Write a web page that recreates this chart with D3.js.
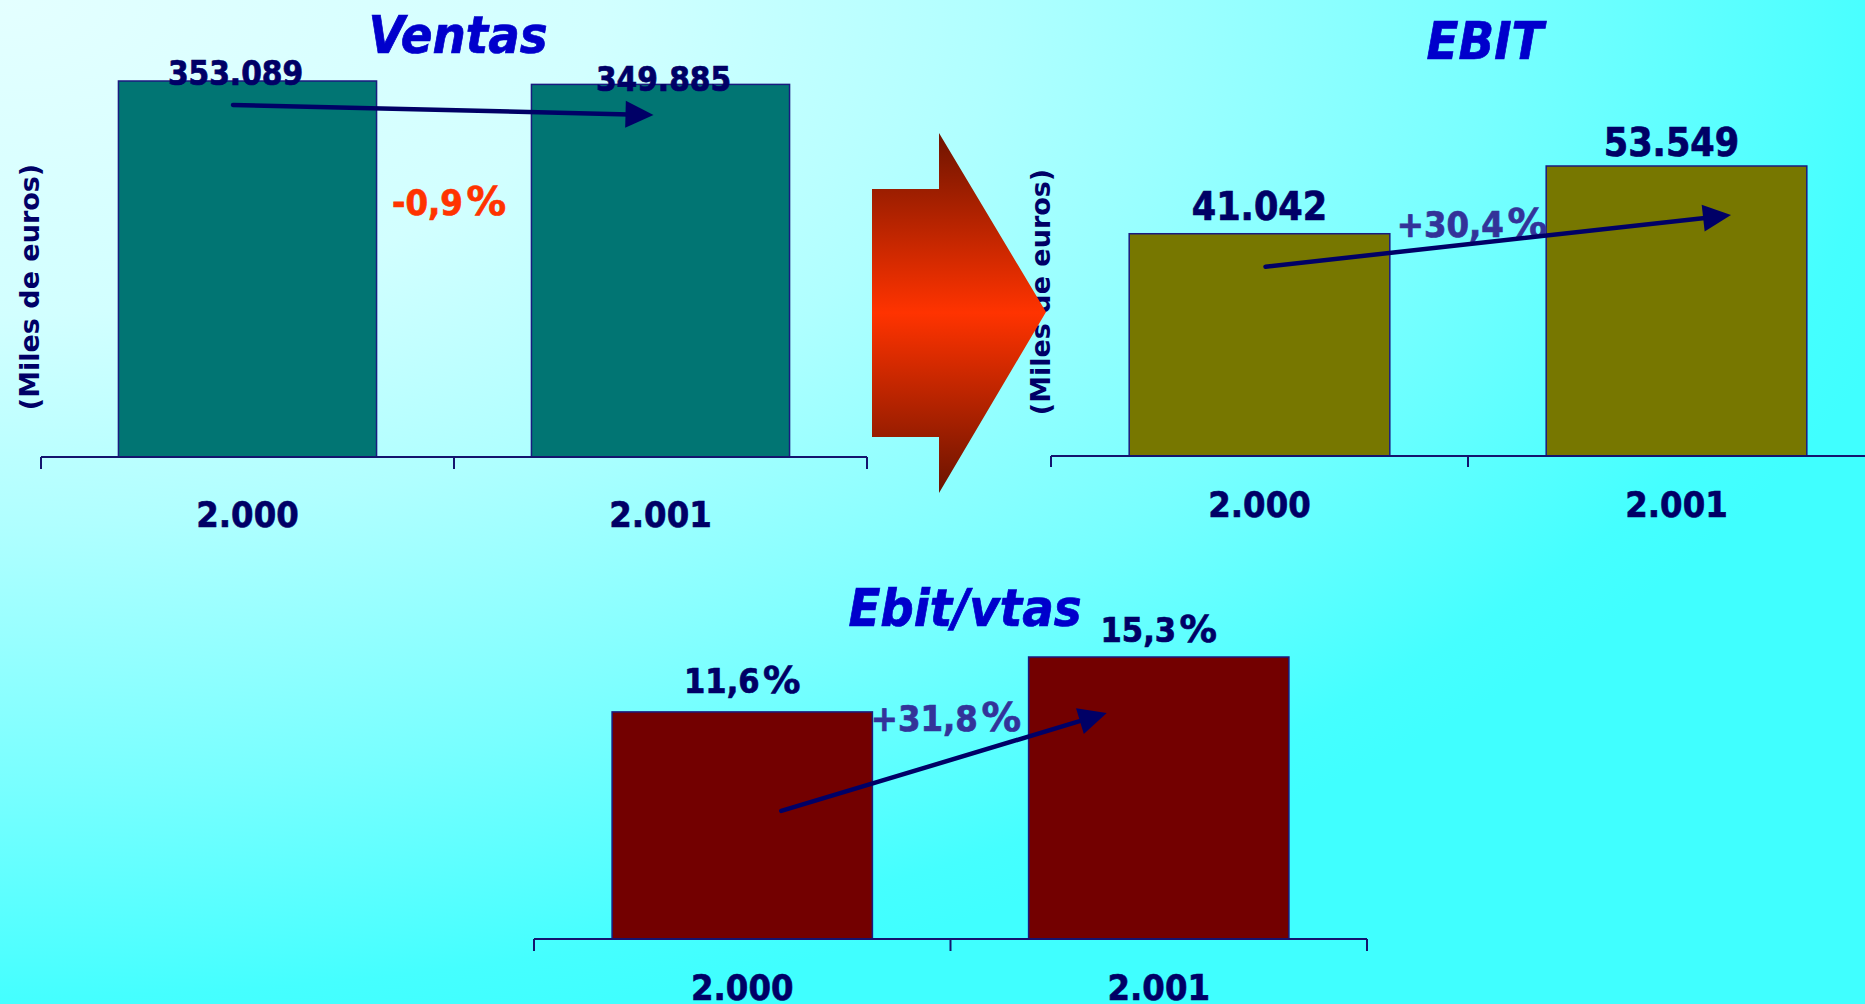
<!DOCTYPE html>
<html><head><meta charset="utf-8">
<script src="https://cdn.jsdelivr.net/npm/d3@7"></script>
<style>html,body{margin:0;padding:0;overflow:hidden;background:#8ff}svg{display:block}</style>
</head><body><svg id="chart" width="1865" height="1004"></svg>
<script>
// ---- data ----
const years = ["2.000", "2.001"];
const ventasValues = [353089, 349885];
const ventasLabels = ["353.089", "349.885"];
const ebitValues = [41042, 53549];
const ebitLabels = ["41.042", "53.549"];
const ratioValues = [11.6, 15.3];
const ratioLabels = ["11,6%", "15,3%"];
const titles = ["Ventas", "EBIT", "Ebit/vtas"];
const changeLabels = ["-0,9%", "+30,4%", "+31,8%"];
const yAxisTitle = "(Miles de euros)";

// ---- layout / style ----
const NAVY = "#000066";
const charts = [
  {title: titles[0], values: ventasValues, labels: ventasLabels, change: changeLabels[0],
   fill: "#017573", xRange: [41, 867], base: 457, topY: 81, yMin: 0, tickLen: 12, xLabelDy: 70,
   labelSize: 33, titlePos: [458, 53], changePos: [449, 215], changeColor: "#FF3300",
   labelDx: [-12, 3], labelDy: [4, 7], arrow: {from: [-14.5, 24], to: [-7, 30.6]}, yTitle: [29, 287]},
  {title: titles[1], values: ebitValues, labels: ebitLabels, change: changeLabels[1],
   fill: "#777700", xRange: [1051, 1885], base: 456, topY: 166, yMin: 0, tickLen: 11, xLabelDy: 61,
   labelSize: 39, titlePos: [1485, 59], changePos: [1472, 237], changeColor: "#333399",
   labelDx: [0, -5], labelDy: [-14, -10], arrow: {from: [6, 33], to: [54.5, 49]}, yTitle: [1040, 292]},
  {title: titles[2], values: ratioValues, labels: ratioLabels, change: changeLabels[2],
   fill: "#730000", xRange: [534, 1367], base: 939, topY: 657, yMin: -3.7, tickLen: 12, xLabelDy: 61,
   labelSize: 34, titlePos: [965, 626], changePos: [946, 731], changeColor: "#333399",
   labelDx: [0, 0], labelDy: [-19, -15], arrow: {from: [39, 99], to: [-52, 56]}, yTitle: null}
];

const svg = d3.select("#chart");
const defs = svg.append("defs");

// font detection: condensed available?
const tA = svg.append("text").attr("font-family", "'DejaVu Sans Condensed','DejaVu Sans'").attr("font-weight", "bold").attr("font-size", 100).text("0123456789");
const tB = svg.append("text").attr("font-family", "'DejaVu Sans'").attr("font-weight", "bold").attr("font-size", 100).text("0123456789");
const hasCond = tA.node().getComputedTextLength() < tB.node().getComputedTextLength() * 0.96;
tA.remove(); tB.remove();
const FONT = hasCond ? "'DejaVu Sans Condensed','DejaVu Sans',sans-serif" : "'DejaVu Sans',sans-serif";
const K = hasCond ? 1 : 0.9;

// background
const bg = defs.append("radialGradient").attr("id", "bg").attr("gradientUnits", "userSpaceOnUse")
  .attr("cx", 0).attr("cy", 0).attr("fx", 0).attr("fy", 0).attr("r", 1)
  .attr("gradientTransform", "scale(2000,1050)");
[[0, "#E4FFFF"], [0.3, "#D2FFFF"], [0.5, "#B0FFFF"], [0.75, "#78FFFF"], [0.95, "#45FFFF"], [1, "#40FFFF"]]
  .forEach(([o, c]) => bg.append("stop").attr("offset", o).attr("stop-color", c));
svg.append("rect").attr("width", 1865).attr("height", 1004).attr("fill", "url(#bg)");

function txt(g, x, y, s, size, color, opts = {}) {
  const t = g.append("text")
    .attr("transform", `translate(${x},${y}) scale(${K},1)`)
    .attr("text-anchor", "middle")
    .attr("font-family", FONT).attr("font-weight", "bold")
    .attr("font-style", opts.italic ? "italic" : "normal")
    .attr("font-size", size).attr("fill", color);
  if (opts.heavy) t.attr("stroke", color).attr("stroke-width", 0.7);
  if (s.endsWith("%")) {
    t.append("tspan").text(s.slice(0, -1));
    t.append("tspan").attr("dx", size * 0.1).attr("font-family", "'DejaVu Sans',sans-serif")
      .attr("font-size", size * 1.1).text("%");
  } else {
    t.text(s);
  }
  return t;
}

function drawArrow(g, p1, p2) {
  const L = 28, W = 13.5;
  const a = Math.atan2(p2[1] - p1[1], p2[0] - p1[0]);
  const c = Math.cos(a), s = Math.sin(a);
  const b = [p2[0] - L * c, p2[1] - L * s];
  g.append("path").attr("d", d3.line()([p1, [b[0] + 4 * c, b[1] + 4 * s]]))
    .attr("stroke", NAVY).attr("stroke-width", 4.5).attr("stroke-linecap", "round").attr("fill", "none");
  g.append("path").attr("d", d3.line()([p2, [b[0] - W * s, b[1] + W * c], [b[0] + W * s, b[1] - W * c]]) + "Z")
    .attr("fill", NAVY);
}

function drawChart(cfg) {
  const g = svg.append("g");
  const x = d3.scaleBand().domain(years).range(cfg.xRange).paddingInner(0.375).paddingOuter(0.1875);
  const y = d3.scaleLinear().domain([cfg.yMin, d3.max(cfg.values)]).range([cfg.base, cfg.topY]);
  const data = years.map((yr, i) => ({yr, v: cfg.values[i], label: cfg.labels[i], i}));

  // y title
  if (cfg.yTitle) {
    g.append("text").attr("transform", `translate(${cfg.yTitle[0]},${cfg.yTitle[1]}) rotate(-90)`)
      .attr("text-anchor", "middle").attr("dy", "0.36em")
      .attr("font-family", "'DejaVu Sans',sans-serif").attr("font-weight", "bold")
      .attr("font-size", 27).attr("fill", NAVY).text(yAxisTitle);
  }

  // bars
  g.selectAll("rect.bar").data(data).join("rect").attr("class", "bar")
    .attr("x", d => x(d.yr)).attr("width", x.bandwidth())
    .attr("y", d => y(d.v)).attr("height", d => y(cfg.yMin) - y(d.v))
    .attr("fill", cfg.fill).attr("stroke", "#1a1a80").attr("stroke-width", 1.5);

  // axis labels via d3 axis
  const ax = g.append("g").attr("transform", `translate(0,${cfg.base})`)
    .call(d3.axisBottom(x).tickSize(0));
  ax.select(".domain").remove();
  ax.selectAll("text").attr("y", null).attr("dy", null)
    .attr("transform", `translate(0,${cfg.xLabelDy}) scale(${K},1)`)
    .attr("font-family", FONT).attr("font-weight", "bold").attr("font-size", 36)
    .attr("fill", NAVY).attr("stroke", NAVY).attr("stroke-width", 0.6);

  // domain line + boundary ticks
  const r0 = x.range()[0], r1 = x.range()[1], step = x.step();
  g.append("path").attr("d", d3.line()([[r0, cfg.base], [r1, cfg.base]]))
    .attr("stroke", "#14146e").attr("stroke-width", 2.2);
  g.selectAll("path.tick").data(d3.range(years.length + 1)).join("path").attr("class", "tick")
    .attr("d", i => d3.line()([[r0 + i * step, cfg.base], [r0 + i * step, cfg.base + cfg.tickLen]]))
    .attr("stroke", "#14146e").attr("stroke-width", 2);

  // value labels
  data.forEach(d => txt(g, x(d.yr) + x.bandwidth() / 2 + cfg.labelDx[d.i], y(d.v) + cfg.labelDy[d.i],
    d.label, cfg.labelSize, NAVY, {heavy: true}));

  // title
  txt(g, cfg.titlePos[0], cfg.titlePos[1], cfg.title, 52, "#0000CC", {italic: true, heavy: true});

  // change label (under the arrow)
  txt(g, cfg.changePos[0], cfg.changePos[1], cfg.change, 36, cfg.changeColor, {heavy: true});

  // change arrow
  const c0 = x(years[0]) + x.bandwidth() / 2, c1 = x(years[1]) + x.bandwidth() / 2;
  drawArrow(g, [c0 + cfg.arrow.from[0], y(data[0].v) + cfg.arrow.from[1]],
               [c1 + cfg.arrow.to[0], y(data[1].v) + cfg.arrow.to[1]]);
}

drawChart(charts[0]);
drawChart(charts[1]);

// big red arrow (decorative)
const rg = defs.append("linearGradient").attr("id", "redArrow").attr("gradientUnits", "userSpaceOnUse")
  .attr("x1", 0).attr("y1", 133).attr("x2", 0).attr("y2", 493);
rg.append("stop").attr("offset", 0).attr("stop-color", "#6E1400");
rg.append("stop").attr("offset", 0.5).attr("stop-color", "#FF3300");
rg.append("stop").attr("offset", 1).attr("stop-color", "#6A1300");
const bigArrow = {x0: 872, x1: 939, xt: 1046, yr0: 189, yr1: 437, yh0: 133, yh1: 493, yt: 312};
svg.append("path")
  .attr("d", d3.line()([[bigArrow.x0, bigArrow.yr0], [bigArrow.x1, bigArrow.yr0], [bigArrow.x1, bigArrow.yh0],
    [bigArrow.xt, bigArrow.yt], [bigArrow.x1, bigArrow.yh1], [bigArrow.x1, bigArrow.yr1], [bigArrow.x0, bigArrow.yr1]]) + "Z")
  .attr("fill", "url(#redArrow)");

drawChart(charts[2]);
</script>
</body></html>
